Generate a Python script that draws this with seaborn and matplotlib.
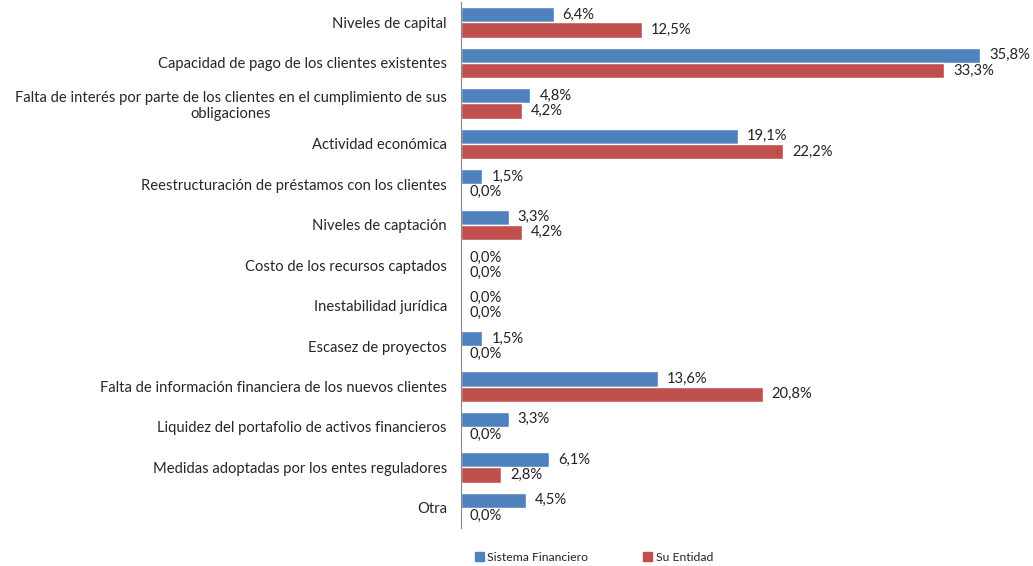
import pandas as pd
import seaborn as sns
import matplotlib.pyplot as plt
from matplotlib.patches import Patch

categorias = [
    "Niveles de capital",
    "Capacidad de pago de los clientes existentes",
    "Falta de interés por parte de los clientes en el cumplimiento de sus\nobligaciones",
    "Actividad económica",
    "Reestructuración de préstamos con los clientes",
    "Niveles de captación",
    "Costo de los recursos captados",
    "Inestabilidad jurídica",
    "Escasez de proyectos",
    "Falta de información financiera de los nuevos clientes",
    "Liquidez del portafolio de activos financieros",
    "Medidas adoptadas por los entes reguladores",
    "Otra",
]
sistema = [6.4, 35.8, 4.8, 19.1, 1.5, 3.3, 0.0, 0.0, 1.5, 13.6, 3.3, 6.1, 4.5]
entidad = [12.5, 33.3, 4.2, 22.2, 0.0, 4.2, 0.0, 0.0, 0.0, 20.8, 0.0, 2.8, 0.0]
series = ["Sistema Financiero", "Su Entidad"]
colores = ["#4F81BD", "#C0504D"]

df = pd.DataFrame({
    "cat": categorias * 2,
    "val": sistema + entidad,
    "serie": [series[0]] * len(categorias) + [series[1]] * len(categorias),
})

sns.set_style("white")
plt.rcParams["font.family"] = ["Lato", "DejaVu Sans"]

fig = plt.figure(figsize=(10.33, 5.66), dpi=100)
ax = fig.add_axes([0.446, 0.067, 0.534, 0.929])
sns.barplot(data=df, y="cat", x="val", hue="serie", palette=colores,
            orient="h", width=0.75, ax=ax, legend=False, saturation=1)

for cont in ax.containers:
    ax.bar_label(cont, labels=[f"{v:.1f}%".replace(".", ",") for v in cont.datavalues],
                 padding=6.5, fontsize=10.6, color="#222222")

ax.set_xlim(0, 38)
ax.set_ylim(12.5, -0.5)
ax.set_xlabel("")
ax.set_ylabel("")
ax.set_xticks([])
ax.tick_params(axis="y", length=0, labelsize=10.6, pad=10)
for lab in ax.get_yticklabels():
    lab.set_multialignment("center")
for s in ["top", "right", "bottom"]:
    ax.spines[s].set_visible(False)
ax.spines["left"].set_color("#888888")

handles = [Patch(color=c, label=s) for c, s in zip(colores, series)]
fig.legend(handles=handles, loc="center", bbox_to_anchor=(0.575, 0.015), ncol=2,
           frameon=False, handlelength=0.7, handleheight=0.7, handletextpad=0.3,
           columnspacing=4.5, fontsize=8.8)

fig.savefig("out.png", dpi=100)
